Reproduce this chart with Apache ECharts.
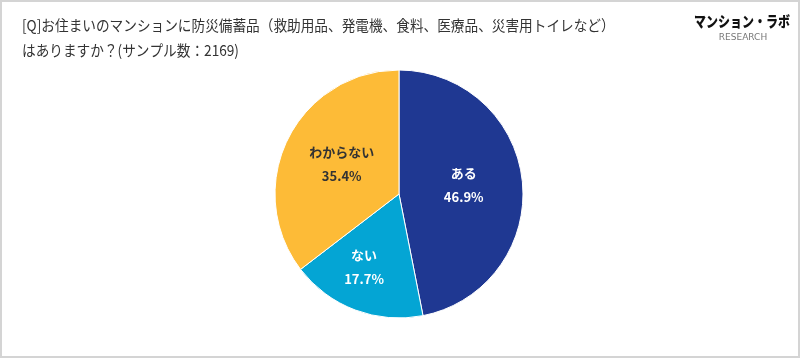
<!DOCTYPE html>
<html><head><meta charset="utf-8">
<script src="https://cdn.jsdelivr.net/npm/echarts@6/dist/echarts.min.js"></script>
<style>html,body{margin:0;padding:0;background:#fff}#c{width:800px;height:358px;box-sizing:border-box;border:2px solid #d4d4d4}</style>
</head><body><div id="c"></div>
<script>
const categories = ['ある', 'ない', 'わからない'];
const values = [46.9, 17.7, 35.4];
const colors = ['#1f3892', '#04a5d4', '#fdbb37'];
const labelColors = ['#ffffff', '#ffffff', '#333333'];
const titleLines = ['[Q]お住まいのマンションに防災備蓄品（救助用品、発電機、食料、医療品、災害用トイレなど）', 'はありますか？(サンプル数：2169)'];
const labelShift = [[0, -3], [-12, 12], [1, -1]];

const chart = echarts.init(document.getElementById('c'));
chart.setOption({
  animation: false,
  graphic: [
    {type: 'text', x: 20, y: 16, scaleX: 0.91, style: {text: titleLines[0], font: '15px "Noto Sans CJK JP", sans-serif', fill: '#333'}},
    {type: 'text', x: 20, y: 41, scaleX: 0.91, style: {text: titleLines[1], font: '15px "Noto Sans CJK JP", sans-serif', fill: '#333'}},
    {type: 'text', x: 692, y: 12, scaleX: 0.8, style: {text: 'マンション・ラボ', font: '900 15px "Noto Sans CJK JP", sans-serif', fill: '#111'}},
    {type: 'text', x: 741, y: 31, style: {text: 'RESEARCH', align: 'center', font: '9px "DejaVu Sans", sans-serif', fill: '#777'}}
  ],
  series: [{
    type: 'pie',
    center: [397, 192],
    radius: [0, 124],
    startAngle: 90,
    clockwise: true,
    label: {
      position: 'inside',
      formatter: p => p.name + '\n' + p.value.toFixed(1) + '%',
      fontSize: 13, fontWeight: 'bold', lineHeight: 24,
      fontFamily: '"Noto Sans CJK JP", sans-serif'
    },
    labelLayout: p => ({dx: labelShift[p.dataIndex][0], dy: labelShift[p.dataIndex][1]}),
    itemStyle: {borderColor: '#fff', borderWidth: 1},
    data: categories.map((c, i) => ({
      name: c, value: values[i],
      itemStyle: {color: colors[i]},
      label: {color: labelColors[i]}
    }))
  }]
});
</script></body></html>
